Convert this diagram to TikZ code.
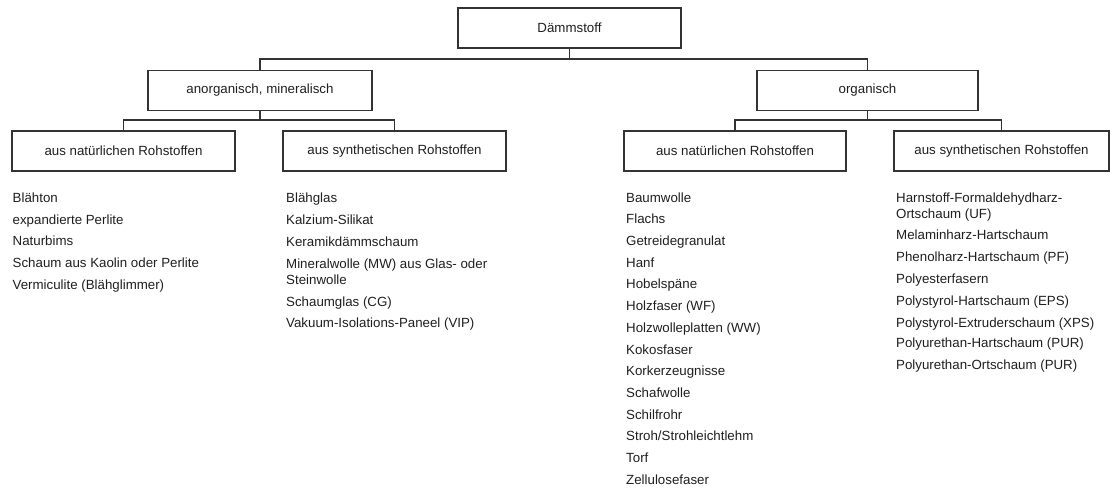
\documentclass[tikz,border=0pt]{standalone}
\usepackage{fontspec}
\setmainfont{Liberation Sans}
\begin{document}
\begin{tikzpicture}[x=1bp,y=-1bp,
  txt/.style={text=black!88, font=\fontsize{13.3bp}{16bp}\selectfont},
  box/.style={txt, draw=black!80, line width=1.2bp, minimum width=#1, minimum height=40bp, inner sep=0pt},
  item/.style={txt, anchor=base west, inner sep=0pt, align=left},
  conn/.style={draw=black!80, line width=1.1bp}]
\useasboundingbox (0,0) rectangle (1112,488);
% boxes
\node[box=223bp] (root) at (569.5,28) {Dämmstoff};
\node[box=224bp] (anorg) at (260,90.5) {anorganisch, mineralisch};
\node[box=221bp] (org) at (867.5,90.5) {organisch};
\node[box=223bp] (b1) at (123.5,151) {aus natürlichen Rohstoffen};
\node[box=223bp] (b2) at (394.5,151) {aus synthetischen Rohstoffen};
\node[box=222bp] (b3) at (735,151) {aus natürlichen Rohstoffen};
\node[box=215bp] (b4) at (1001.5,151) {aus synthetischen Rohstoffen};
% junctions
\coordinate (j1) at (569.5,59);
\coordinate (j2) at (260,120);
\coordinate (j3) at (867.5,120);
% connectors
\draw[conn] (root.south) -- (j1);
\draw[conn] (anorg.north) -- (anorg.north |- j1) -- (org.north |- j1) -- (org.north);
\draw[conn] (anorg.south) -- (j2);
\draw[conn] (b1.north) -- (b1.north |- j2) -- (b2.north |- j2) -- (b2.north);
\draw[conn] (org.south) -- (j3);
\draw[conn] (b3.north) -- (b3.north |- j3) -- (b4.north |- j3) -- (b4.north);
% list 1
\node[item] (l1a) at (12.5,202.5) {Blähton};
\node[item] (l1b) at (12.5,224.2) {expandierte Perlite};
\node[item] (l1c) at (12.5,245.9) {Naturbims};
\node[item] (l1d) at (12.5,267.6) {Schaum aus Kaolin oder Perlite};
\node[item] (l1e) at (12.5,289.3) {Vermiculite (Blähglimmer)};
% list 2
\node[item] (l2a) at (286,202.2) {Blähglas};
\node[item] (l2b) at (286,224.5) {Kalzium-Silikat};
\node[item] (l2c) at (286,246.2) {Keramikdämmschaum};
\node[item] (l2d) at (286,284.5) {Mineralwolle (MW) aus Glas- oder\\Steinwolle};
\node[item] (l2e) at (286,306.2) {Schaumglas (CG)};
\node[item] (l2f) at (286,327.8) {Vakuum-Isolations-Paneel (VIP)};
% list 3
\node[item] (l3a) at (626,202.2) {Baumwolle};
\node[item] (l3b) at (626,223.9) {Flachs};
\node[item] (l3c) at (626,245.6) {Getreidegranulat};
\node[item] (l3d) at (626,267.3) {Hanf};
\node[item] (l3e) at (626,289.0) {Hobelspäne};
\node[item] (l3f) at (626,310.7) {Holzfaser (WF)};
\node[item] (l3g) at (626,332.4) {Holzwolleplatten (WW)};
\node[item] (l3h) at (626,354.1) {Kokosfaser};
\node[item] (l3i) at (626,375.8) {Korkerzeugnisse};
\node[item] (l3j) at (626,397.5) {Schafwolle};
\node[item] (l3k) at (626,419.2) {Schilfrohr};
\node[item] (l3l) at (626,440.9) {Stroh/Strohleichtlehm};
\node[item] (l3m) at (626,462.6) {Torf};
\node[item] (l3n) at (626,484.3) {Zellulosefaser};
% list 4
\node[item] (l4a) at (896,218.5) {Harnstoff-Formaldehydharz-\\Ortschaum (UF)};
\node[item] (l4b) at (896,239.5) {Melaminharz-Hartschaum};
\node[item] (l4c) at (896,261.8) {Phenolharz-Hartschaum (PF)};
\node[item] (l4d) at (896,283.5) {Polyesterfasern};
\node[item] (l4e) at (896,305.2) {Polystyrol-Hartschaum (EPS)};
\node[item] (l4f) at (896,327.2) {Polystyrol-Extruderschaum (XPS)};
\node[item] (l4g) at (896,347.8) {Polyurethan-Hartschaum (PUR)};
\node[item] (l4h) at (896,369.5) {Polyurethan-Ortschaum (PUR)};
\end{tikzpicture}
\end{document}
